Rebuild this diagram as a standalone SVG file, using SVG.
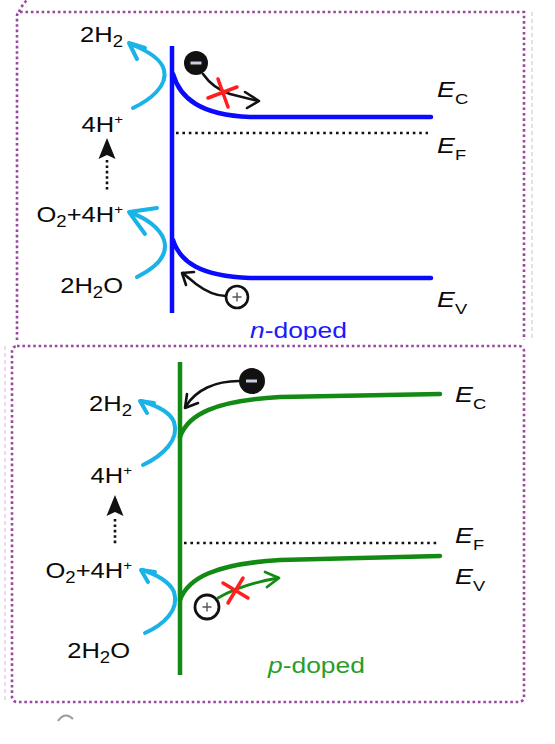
<svg xmlns="http://www.w3.org/2000/svg" width="555" height="744" viewBox="0 0 555 744">
<style>
.frame{fill:none;stroke:#9c45a3;stroke-width:2.6;stroke-dasharray:2.6 2.8}
.faint{fill:none;stroke:#e6cfe6;stroke-width:1.5;stroke-dasharray:4 3}
.wall-n{stroke:#0a0aff;stroke-width:4.5;fill:none}
.band-n{stroke:#0a0aff;stroke-width:4.5;fill:none;stroke-linecap:round}
.wall-p{stroke:#138a13;stroke-width:4.5;fill:none}
.band-p{stroke:#138a13;stroke-width:4.5;fill:none;stroke-linecap:round}
.fermi{stroke:#111;stroke-width:2.6;fill:none;stroke-dasharray:2.6 3.8}
.cyan{stroke:#1ab3e8;stroke-width:4;fill:none;stroke-linecap:round;stroke-linejoin:round}
.blk{stroke:#111;stroke-width:2.6;fill:none;stroke-linecap:round;stroke-linejoin:round}
.grn{stroke:#138a13;stroke-width:2.8;fill:none;stroke-linecap:round;stroke-linejoin:round}
.red{stroke:#ff1e1e;stroke-width:3.5;fill:none;stroke-linecap:round}
.dot{stroke:#111;stroke-width:2.6;fill:none;stroke-dasharray:2.6 2.8}
.t{font-family:"Liberation Sans",Arial,sans-serif;font-size:22px;fill:#0a0a0a}
.sub{font-size:16px}
.sup{font-size:13px}
.e{font-family:"Liberation Sans",Arial,sans-serif;font-size:22px;fill:#0a0a0a}
.es{font-size:15px;font-style:normal}
</style>

<!-- n-doped panel -->
<g id="panel-n">
  <path class="frame" d="M17,340 L17,16 Q17,12 21,12 L524,12 L524,340"/>
  <path class="frame" d="M19,12 Q22,5 27,0"/>
  <line class="faint" x1="532" y1="12" x2="532" y2="340"/>
  <line id="wall-n" class="wall-n" x1="172" y1="46" x2="172" y2="313"/>
  <path id="ec-n" class="band-n" d="M173,74 C180,98 200,115 250,117 L431,117"/>
  <path id="ev-n" class="band-n" d="M173,240 C180,262 200,276 250,278 L431,278"/>
  <line id="ef-n" class="fermi" x1="176" y1="133" x2="428" y2="133"/>
  <g id="labels-n">
    <text class="e" transform="translate(437,97) scale(1.22,1)"><tspan font-style="italic">E</tspan><tspan class="es" dy="7">C</tspan></text>
    <text class="e" transform="translate(437,153) scale(1.22,1)"><tspan font-style="italic">E</tspan><tspan class="es" dy="7">F</tspan></text>
    <text class="e" transform="translate(437,307) scale(1.22,1)"><tspan font-style="italic">E</tspan><tspan class="es" dy="7">V</tspan></text>
  </g>
  <g id="species-n">
    <text class="t" text-anchor="end" transform="translate(123,42) scale(1.16,1)">2H<tspan class="sub" dy="5">2</tspan></text>
    <text class="t" text-anchor="end" transform="translate(123,132) scale(1.16,1)">4H<tspan class="sup" dy="-8">+</tspan></text>
    <text class="t" text-anchor="end" transform="translate(123,222) scale(1.16,1)">O<tspan class="sub" dy="5">2</tspan><tspan dy="-5">+4H</tspan><tspan class="sup" dy="-8">+</tspan></text>
    <text class="t" text-anchor="end" transform="translate(123,293) scale(1.16,1)">2H<tspan class="sub" dy="5">2</tspan><tspan dy="-5">O</tspan></text>
  </g>
  <g id="electron-n">
    <circle cx="196" cy="63" r="12" fill="#111"/>
    <rect x="190.5" y="61.5" width="11" height="3" fill="#c8cede"/>
  </g>
  <g id="hole-n">
    <circle cx="237" cy="297" r="11" fill="#fff" stroke="#111" stroke-width="2.6"/>
    <path d="M232.5,297 H241.5 M237,292.5 V301.5" stroke="#555" stroke-width="1.4"/>
  </g>
  <text class="t" style="fill:#1a1aff" transform="translate(250,338) scale(1.2,1)"><tspan font-style="italic">n</tspan>-doped</text>
</g>

<!-- p-doped panel -->
<g id="panel-p">
  <rect x="6" y="340" width="524" height="366" fill="#fff"/>
  <rect class="frame" x="12" y="346" width="512" height="356" rx="5"/>
  <line class="faint" x1="5" y1="346" x2="5" y2="700"/>
  <line id="wall-p" class="wall-p" x1="180" y1="362" x2="180" y2="675"/>
  <path id="ec-p" class="band-p" d="M180,437 C188,414 215,401 280,397 L440,394"/>
  <path id="ev-p" class="band-p" d="M180,600 C188,578 215,564 280,560 L440,556"/>
  <line id="ef-p" class="fermi" x1="184" y1="543" x2="440" y2="543"/>
  <g id="labels-p">
    <text class="e" transform="translate(455,402) scale(1.22,1)"><tspan font-style="italic">E</tspan><tspan class="es" dy="7">C</tspan></text>
    <text class="e" transform="translate(455,543) scale(1.22,1)"><tspan font-style="italic">E</tspan><tspan class="es" dy="7">F</tspan></text>
    <text class="e" transform="translate(455,584) scale(1.22,1)"><tspan font-style="italic">E</tspan><tspan class="es" dy="7">V</tspan></text>
  </g>
  <g id="species-p">
    <text class="t" text-anchor="end" transform="translate(132,411) scale(1.16,1)">2H<tspan class="sub" dy="5">2</tspan></text>
    <text class="t" text-anchor="end" transform="translate(132,483) scale(1.16,1)">4H<tspan class="sup" dy="-8">+</tspan></text>
    <text class="t" text-anchor="end" transform="translate(132,578) scale(1.16,1)">O<tspan class="sub" dy="5">2</tspan><tspan dy="-5">+4H</tspan><tspan class="sup" dy="-8">+</tspan></text>
    <text class="t" text-anchor="end" transform="translate(130,658) scale(1.16,1)">2H<tspan class="sub" dy="5">2</tspan><tspan dy="-5">O</tspan></text>
  </g>
  <g id="electron-p">
    <circle cx="252" cy="381" r="13" fill="#111"/>
    <rect x="246" y="379.5" width="11" height="3" fill="#c8cede"/>
  </g>
  <g id="hole-p">
    <circle cx="207" cy="607" r="12" fill="#fff" stroke="#111" stroke-width="2.8"/>
    <path d="M202.5,607 H211.5 M207,602.5 V611.5" stroke="#555" stroke-width="1.4"/>
  </g>
  <text class="t" style="fill:#2a9d2a" transform="translate(268,673) scale(1.2,1)"><tspan font-style="italic">p</tspan>-doped</text>
</g>

<!-- connectors -->
<g id="connectors">
  <!-- n panel -->
  <path class="cyan" d="M133,108 C150,100 168,86 164,70 C161,58 146,50 130,44"/>
  <polyline class="cyan" points="145,48 129,43 137,59"/>
  <path class="cyan" stroke-width="5" d="M137,277 C155,268 169,256 164,240 C160,228 146,218 131,213"/>
  <polyline class="cyan" stroke-width="5" points="157,208 129,212 145,234"/>
  <line class="dot" x1="107" y1="160" x2="107" y2="190"/>
  <polygon points="107,138 115.5,159 107,155 98.5,159" fill="#111"/>
  <path class="blk" d="M203,74 C210,84 218,90 230,94 L258,101"/>
  <polyline class="blk" points="245,92 259,101 247,108"/>
  <path class="blk" d="M226,296 C214,296 204,290 196,284 C190,279 186,276 183,273"/>
  <polyline class="blk" points="194,272 182,273 186,285"/>
  <path class="red" d="M208,98 L237,87 M218,79 L228,107"/>
  <!-- p panel -->
  <path class="cyan" d="M143,465 C162,456 180,440 174,422 C170,412 155,405 141,401"/>
  <polyline class="cyan" points="154,403 140,401 147,413"/>
  <path class="cyan" d="M145,633 C163,625 180,610 174,592 C170,582 156,574 142,570"/>
  <polyline class="cyan" points="155,572 141,570 148,582"/>
  <line class="dot" x1="115" y1="519" x2="115" y2="546"/>
  <polygon points="115,495 123.5,516 115,512 106.5,516" fill="#111"/>
  <path class="blk" d="M239,381 C215,381 196,390 186,406"/>
  <polyline class="blk" points="187,394 185,408 198,403"/>
  <path class="grn" d="M218,598 C235,588 255,582 278,578"/>
  <polyline class="grn" points="265,572 279,578 267,587"/>
  <path class="red" d="M223,583 L248,598 M243,578 L228,603"/>
</g>

<path d="M58,721 Q65,711 73,719" fill="none" stroke="#9a9a9a" stroke-width="2"/>
</svg>
